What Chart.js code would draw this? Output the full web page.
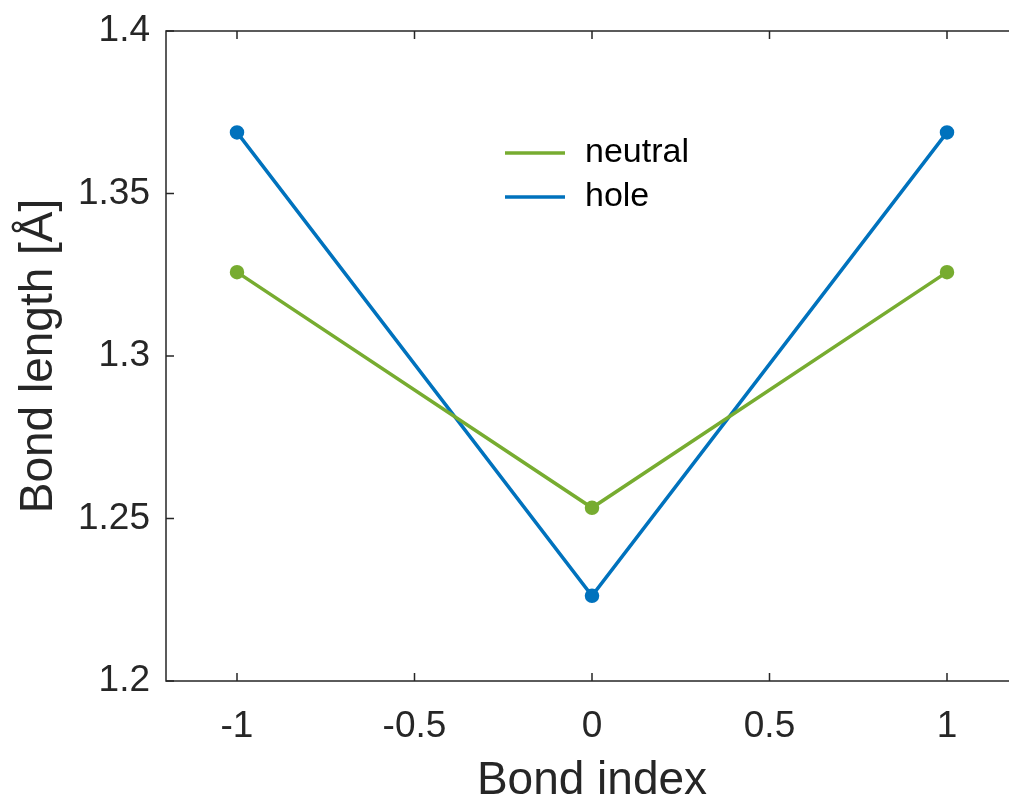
<!DOCTYPE html>
<html>
<head>
<meta charset="utf-8">
<script src="https://cdn.jsdelivr.net/npm/chart.js@4/dist/chart.umd.min.js"></script>
<style>
  html, body { margin: 0; padding: 0; background: #fff; overflow: hidden; }
  .wrap { width: 1030px; height: 804px; }
</style>
</head>
<body>
<div class="wrap"><canvas id="chart"></canvas></div>
<script>
const bondIndex = [-1, 0, 1];
const neutral = [1.3258, 1.2533, 1.3258];
const hole = [1.3688, 1.2262, 1.3688];
const xTicks = [-1, -0.5, 0, 0.5, 1];
const yTicks = [1.2, 1.25, 1.3, 1.35, 1.4];

const axisColor = '#262626';
const font = 'Liberation Sans, Arial, Helvetica, sans-serif';

// MATLAB-style box with inward ticks on all four sides + inset legend
const boxPlugin = {
  id: 'box',
  afterDraw(chart) {
    const { ctx, chartArea: a, scales } = chart;
    ctx.save();
    ctx.strokeStyle = axisColor;
    ctx.lineWidth = 1.5;
    ctx.strokeRect(a.left, a.top, a.right - a.left, a.bottom - a.top);
    const len = 8;
    ctx.beginPath();
    xTicks.forEach(v => {
      const x = scales.x.getPixelForValue(v);
      ctx.moveTo(x, a.bottom); ctx.lineTo(x, a.bottom - len);
      ctx.moveTo(x, a.top); ctx.lineTo(x, a.top + len);
    });
    yTicks.forEach(v => {
      const y = scales.y.getPixelForValue(v);
      ctx.moveTo(a.left, y); ctx.lineTo(a.left + len, y);
      ctx.moveTo(a.right, y); ctx.lineTo(a.right - len, y);
    });
    ctx.stroke();

    // legend
    const lx = 505, ly = 153, gap = 44;
    chart.data.datasets.forEach((ds, i) => {
      const y = ly + i * gap;
      ctx.strokeStyle = ds.borderColor;
      ctx.lineWidth = 3.5;
      ctx.beginPath();
      ctx.moveTo(lx, y); ctx.lineTo(lx + 60, y);
      ctx.stroke();
      ctx.fillStyle = '#000';
      ctx.font = '34px ' + font;
      ctx.textBaseline = 'middle';
      ctx.fillText(ds.label, lx + 80, y);
    });
    ctx.restore();
  }
};

new Chart(document.getElementById('chart'), {
  type: 'line',
  data: {
    datasets: [
      {
        label: 'neutral',
        data: bondIndex.map((x, i) => ({ x, y: neutral[i] })),
        borderColor: '#77AC30',
        backgroundColor: '#77AC30',
        borderWidth: 3.5,
        pointRadius: 5.5,
        tension: 0
      },
      {
        label: 'hole',
        data: bondIndex.map((x, i) => ({ x, y: hole[i] })),
        borderColor: '#0072BD',
        backgroundColor: '#0072BD',
        borderWidth: 3.5,
        pointRadius: 5.5,
        tension: 0
      }
    ]
  },
  options: {
    responsive: true,
    maintainAspectRatio: false,
    animation: false,
    layout: { padding: { top: 31, right: 12, left: 0, bottom: 0 } },
    plugins: { legend: { display: false }, tooltip: { enabled: false } },
    scales: {
      x: {
        type: 'linear',
        min: -1.2,
        max: 1.2,
        afterBuildTicks: axis => { axis.ticks = xTicks.map(v => ({ value: v })); },
        afterFit: axis => { axis.height = 123; axis.paddingLeft = 0; axis.paddingRight = 0; },
        grid: { display: false, drawTicks: false },
        border: { display: false },
        ticks: {
          color: axisColor,
          font: { family: font, size: 37 },
          padding: 24,
          maxRotation: 0,
          callback: v => String(v)
        },
        title: {
          display: true,
          text: 'Bond index',
          color: axisColor,
          font: { family: font, size: 46, lineHeight: 1 },
          padding: { top: 0, bottom: 0 }
        }
      },
      y: {
        min: 1.2,
        max: 1.4,
        afterBuildTicks: axis => { axis.ticks = yTicks.map(v => ({ value: v })); },
        afterFit: axis => { axis.width = 166; axis.paddingTop = 0; axis.paddingBottom = 0; },
        grid: { display: false, drawTicks: false },
        border: { display: false },
        ticks: {
          color: axisColor,
          font: { family: font, size: 37 },
          padding: 16,
          callback: v => String(v)
        },
        title: {
          display: true,
          text: 'Bond length [Å]',
          color: axisColor,
          font: { family: font, size: 46 },
          padding: { top: 12, bottom: 0 }
        }
      }
    }
  },
  plugins: [boxPlugin]
});
</script>
</body>
</html>
